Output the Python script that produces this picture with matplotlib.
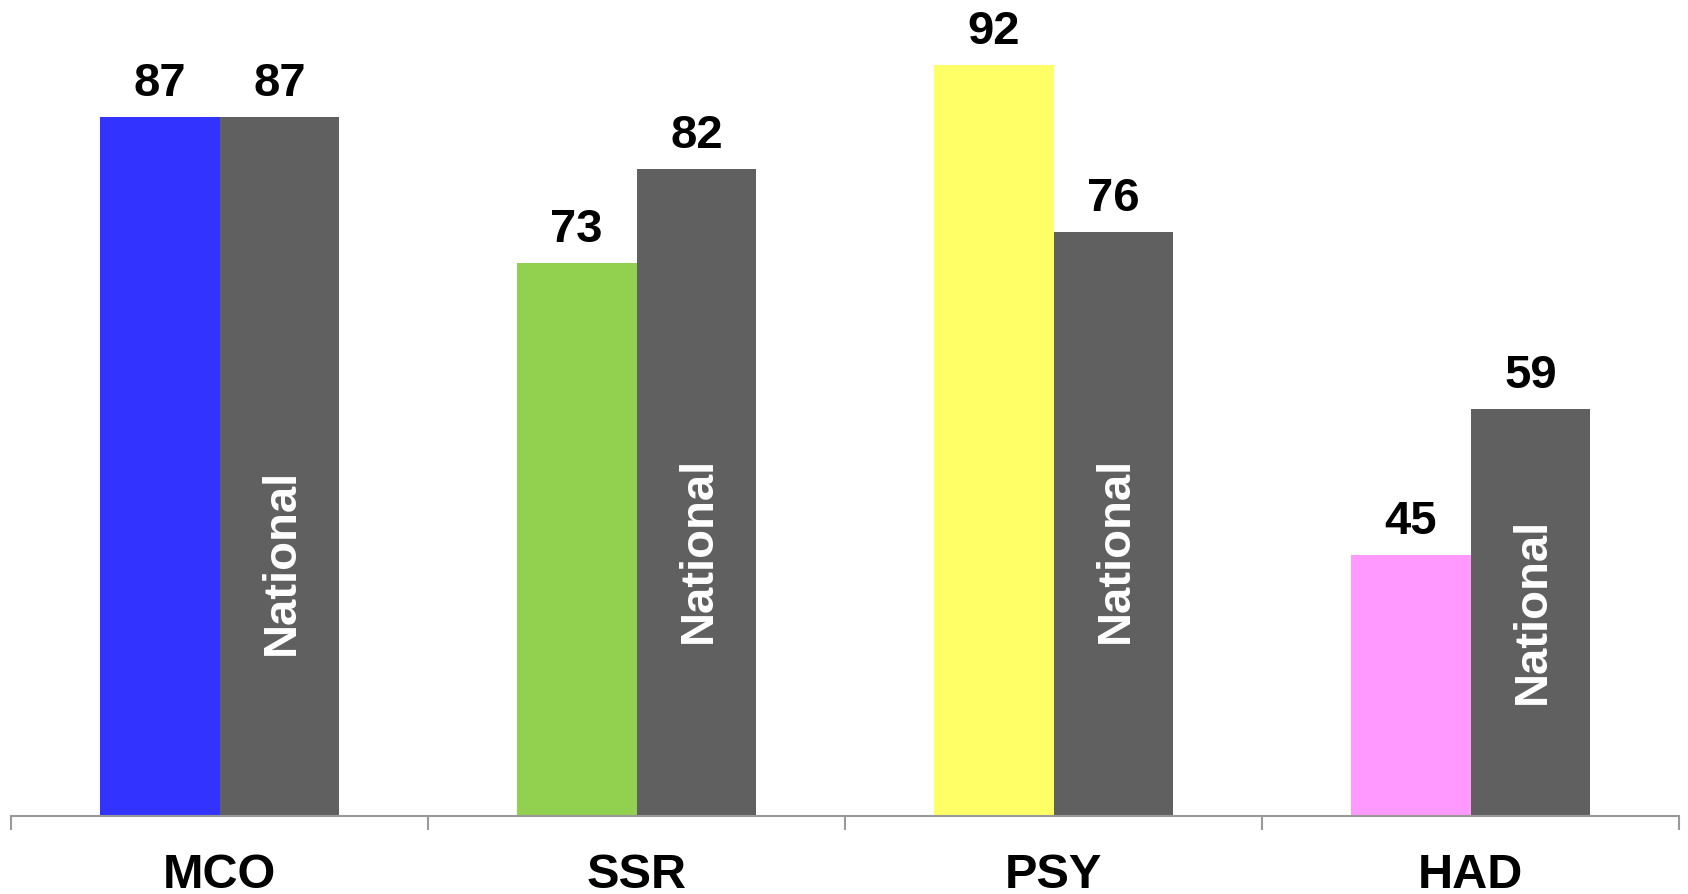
import numpy as np
import matplotlib.pyplot as plt
from matplotlib.transforms import blended_transform_factory

categories = ["MCO", "SSR", "PSY", "HAD"]
local_values = [87, 73, 92, 45]
national_values = [87, 82, 76, 59]
local_colors = ["#3333FF", "#92D050", "#FFFF66", "#FF99FF"]
national_color = "#606060"
# where the "National" word sits inside each grey bar (data units)
national_label_y = [44.3, 45.5, 45.5, 39.6]

plt.rcParams['font.family'] = ['Liberation Sans', 'DejaVu Sans']

fig = plt.figure(figsize=(16.88, 8.94), dpi=100)
ax = fig.add_axes([11/1688, 78.3/894, 1668/1688, 815.7/894])

x = np.arange(len(categories))
w = 0.287

b1 = ax.bar(x - w/2, local_values, w, color=local_colors)
b2 = ax.bar(x + w/2, national_values, w, color=national_color)

for bars, vals in [(b1, local_values), (b2, national_values)]:
    for rect, v in zip(bars, vals):
        ax.annotate(str(v), (rect.get_x() + rect.get_width()/2, v),
                    xytext=(0, 15), textcoords='offset points',
                    ha='center', va='baseline', fontsize=34,
                    fontweight='bold', annotation_clip=False)

for xi, yl in zip(x, national_label_y):
    ax.text(xi + w/2 + 0.005, yl, "National", rotation=90, ha='center', va='center',
            color='white', fontsize=34, fontweight='bold')

ax.set_xlim(-0.5, 3.5)
ax.set_ylim(20, 98.23)

for s in ['top', 'right', 'left']:
    ax.spines[s].set_visible(False)
ax.spines['bottom'].set_color('#999999')
ax.spines['bottom'].set_linewidth(1.5)
ax.set_yticks([])
ax.set_xticks([-0.5, 0.5, 1.5, 2.5, 3.5])
ax.set_xticklabels([])
ax.tick_params(axis='x', direction='out', length=10, width=1.5, color='#999999')

trans = blended_transform_factory(ax.transData, ax.transAxes)
for xi, c in zip(x, categories):
    ax.text(xi, -0.089, c, transform=trans, ha='center', va='baseline',
            fontsize=35, fontweight='bold', clip_on=False)

fig.savefig("out.png", dpi=100)
